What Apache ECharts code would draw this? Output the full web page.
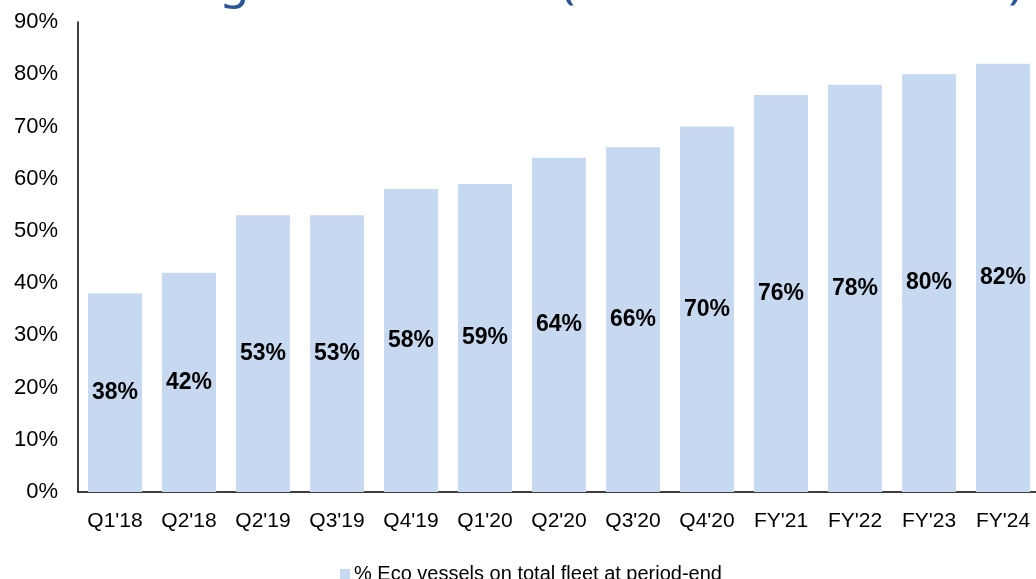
<!DOCTYPE html>
<html>
<head>
<meta charset="utf-8">
<script src="https://cdn.jsdelivr.net/npm/echarts@6/dist/echarts.min.js"></script>
<style>
  html, body { margin: 0; padding: 0; background: #ffffff; }
  #main { width: 1036px; height: 579px; }
</style>
</head>
<body>
<div id="main"></div>
<script>
// periods on the x axis
var periods = ["Q1'18", "Q2'18", "Q2'19", "Q3'19", "Q4'19", "Q1'20", "Q2'20", "Q3'20", "Q4'20", "FY'21", "FY'22", "FY'23", "FY'24"];
// % eco vessels on total fleet
var ecoShare = [38, 42, 53, 53, 58, 59, 64, 66, 70, 76, 78, 80, 82];
var seriesName = '% Eco vessels on total fleet at period-end';
var pageTitle = 'Investing the Eco Fleet (total and chartered)';

var chart = echarts.init(document.getElementById('main'), null, { renderer: 'canvas' });

var option = {
  backgroundColor: '#ffffff',
  textStyle: { fontFamily: 'Liberation Sans, Arial, sans-serif' },
  graphic: [{
    // slide title, mostly cut off at the top of the picture
    type: 'text',
    left: 40,
    top: -40,
    style: {
      text: pageTitle,
      fill: '#2A5597',
      font: '48px "Noto Sans", sans-serif'
    }
  }],
  legend: {
    data: [seriesName],
    top: 559,
    left: 335,
    icon: 'rect',
    itemWidth: 10,
    itemHeight: 10,
    itemGap: 5,
    textStyle: { fontSize: 20, color: '#000', fontFamily: 'Liberation Sans', padding: [0, 0, 0, -1] }
  },
  grid: {
    left: 78,
    right: -4,
    top: 22,
    bottom: 87,
    containLabel: false,
    outerBoundsMode: 'none'
  },
  xAxis: {
    type: 'category',
    data: periods,
    axisLine: { lineStyle: { color: '#000', width: 1.5 } },
    axisTick: { show: false },
    axisLabel: { fontSize: 21, color: '#000', margin: 19, interval: 0 }
  },
  yAxis: {
    type: 'value',
    min: 0,
    max: 90,
    interval: 10,
    axisLine: { show: true, lineStyle: { color: '#000', width: 1.5 } },
    axisTick: { show: false },
    splitLine: { show: false },
    axisLabel: { fontSize: 22, color: '#000', margin: 20, formatter: '{value}%' }
  },
  series: [{
    name: seriesName,
    type: 'bar',
    data: ecoShare,
    barCategoryGap: '27%',
    itemStyle: { color: '#C6D9F0' },
    label: {
      show: true,
      position: 'inside',
      formatter: '{c}%',
      fontSize: 23,
      fontWeight: 'bold',
      color: '#000'
    }
  }]
};

chart.setOption(option);
</script>
</body>
</html>
